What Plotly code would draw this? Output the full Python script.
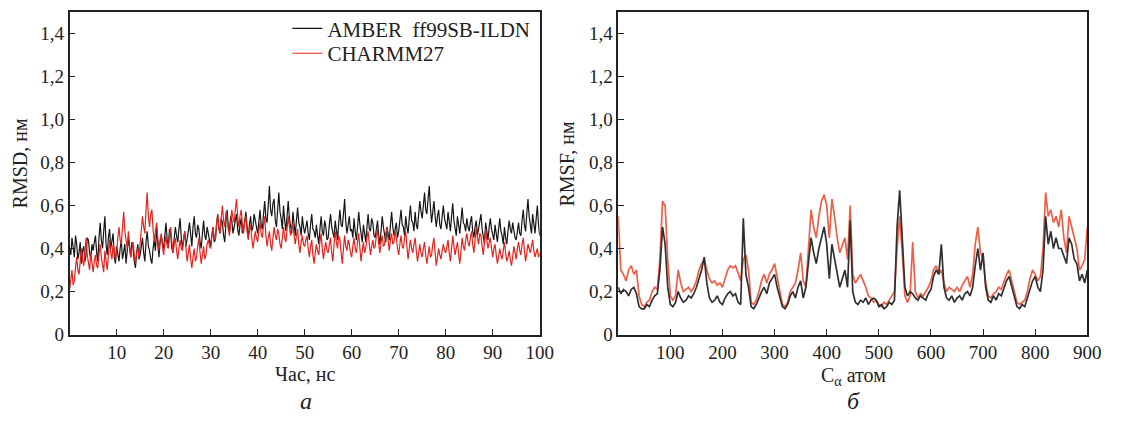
import plotly.graph_objects as go

# ---- RMSD over simulation time (ns), sampled every 0.25 ns ----
time_ns = [i * 0.25 for i in range(401)]

rmsd_amber = [
    0.40, 0.37, 0.45, 0.41, 0.36, 0.46, 0.42, 0.35, 0.38, 0.43, 0.33, 0.39, 0.41, 0.34, 0.37, 0.45, 0.44, 0.38, 0.35, 0.42,
    0.39, 0.43, 0.46, 0.38, 0.34, 0.45, 0.52, 0.44, 0.40, 0.48, 0.55, 0.42, 0.37, 0.45, 0.49, 0.40, 0.43, 0.47, 0.36, 0.33,
    0.41, 0.37, 0.34, 0.40, 0.44, 0.35, 0.38, 0.42, 0.33, 0.39, 0.45, 0.40, 0.36, 0.43, 0.40, 0.34, 0.31, 0.38, 0.42, 0.35,
    0.37, 0.41, 0.45, 0.38, 0.34, 0.43, 0.48, 0.41, 0.39, 0.35, 0.33, 0.40, 0.44, 0.39, 0.50, 0.42, 0.36, 0.43, 0.46, 0.42,
    0.40, 0.46, 0.52, 0.44, 0.41, 0.49, 0.47, 0.40, 0.38, 0.45, 0.50, 0.46, 0.43, 0.49, 0.54, 0.45, 0.40, 0.44, 0.48, 0.41,
    0.44, 0.48, 0.52, 0.45, 0.41, 0.50, 0.55, 0.47, 0.45, 0.51, 0.49, 0.43, 0.40, 0.47, 0.53, 0.46, 0.44, 0.50, 0.47, 0.43,
    0.41, 0.46, 0.50, 0.43, 0.44, 0.51, 0.56, 0.49, 0.47, 0.54, 0.52, 0.46, 0.43, 0.52, 0.58, 0.50, 0.48, 0.55, 0.53, 0.47,
    0.50, 0.53, 0.56, 0.49, 0.46, 0.51, 0.54, 0.47, 0.49, 0.53, 0.57, 0.50, 0.45, 0.51, 0.55, 0.48, 0.50, 0.56, 0.53, 0.50,
    0.47, 0.52, 0.58, 0.51, 0.49, 0.56, 0.62, 0.54, 0.52, 0.60, 0.69, 0.58, 0.55, 0.61, 0.63, 0.53, 0.50, 0.58, 0.66, 0.57,
    0.54, 0.49, 0.60, 0.53, 0.48, 0.55, 0.62, 0.54, 0.51, 0.47, 0.57, 0.50, 0.46, 0.53, 0.59, 0.52, 0.50, 0.46, 0.55, 0.50,
    0.47, 0.50, 0.53, 0.47, 0.44, 0.51, 0.56, 0.49, 0.48, 0.45, 0.51, 0.46, 0.42, 0.49, 0.55, 0.48, 0.46, 0.53, 0.50, 0.44,
    0.45, 0.51, 0.56, 0.50, 0.48, 0.45, 0.53, 0.47, 0.44, 0.52, 0.58, 0.51, 0.50, 0.56, 0.63, 0.52, 0.47, 0.51, 0.55, 0.48,
    0.49, 0.45, 0.54, 0.48, 0.44, 0.50, 0.57, 0.51, 0.47, 0.43, 0.51, 0.46, 0.43, 0.50, 0.56, 0.49, 0.48, 0.54, 0.52, 0.46,
    0.45, 0.49, 0.53, 0.46, 0.42, 0.48, 0.55, 0.50, 0.47, 0.43, 0.50, 0.47, 0.44, 0.51, 0.57, 0.50, 0.46, 0.49, 0.52, 0.45,
    0.48, 0.53, 0.58, 0.51, 0.50, 0.46, 0.55, 0.50, 0.47, 0.54, 0.60, 0.53, 0.52, 0.48, 0.57, 0.51, 0.49, 0.56, 0.62, 0.57,
    0.54, 0.60, 0.66, 0.58, 0.56, 0.63, 0.69, 0.59, 0.52, 0.57, 0.62, 0.55, 0.50, 0.55, 0.58, 0.51, 0.49, 0.55, 0.60, 0.54,
    0.52, 0.49, 0.57, 0.51, 0.48, 0.55, 0.61, 0.53, 0.50, 0.46, 0.55, 0.50, 0.47, 0.53, 0.59, 0.52, 0.51, 0.48, 0.54, 0.50,
    0.48, 0.52, 0.55, 0.48, 0.45, 0.50, 0.53, 0.46, 0.49, 0.53, 0.56, 0.49, 0.46, 0.42, 0.52, 0.47, 0.44, 0.50, 0.54, 0.49,
    0.47, 0.44, 0.51, 0.46, 0.43, 0.49, 0.54, 0.48, 0.46, 0.42, 0.50, 0.45, 0.42, 0.48, 0.53, 0.49, 0.47, 0.52, 0.49, 0.45,
    0.44, 0.49, 0.52, 0.47, 0.46, 0.53, 0.58, 0.51, 0.48, 0.56, 0.63, 0.55, 0.51, 0.47, 0.56, 0.50, 0.47, 0.54, 0.60, 0.51,
    0.46,
]

rmsd_charmm = [
    0.21, 0.26, 0.30, 0.23, 0.25, 0.31, 0.36, 0.30, 0.28, 0.34, 0.40, 0.35, 0.32, 0.38, 0.45, 0.37, 0.34, 0.30, 0.38, 0.33,
    0.29, 0.34, 0.37, 0.32, 0.31, 0.37, 0.42, 0.36, 0.33, 0.29, 0.39, 0.34, 0.30, 0.37, 0.44, 0.38, 0.35, 0.42, 0.40, 0.35,
    0.38, 0.45, 0.50, 0.44, 0.42, 0.50, 0.57, 0.48, 0.44, 0.40, 0.48, 0.41, 0.36, 0.40, 0.43, 0.37, 0.33, 0.38, 0.40, 0.36,
    0.42, 0.49, 0.55, 0.50, 0.47, 0.58, 0.66, 0.55, 0.50, 0.56, 0.58, 0.49, 0.43, 0.48, 0.52, 0.45, 0.39, 0.44, 0.47, 0.41,
    0.37, 0.42, 0.46, 0.41, 0.40, 0.46, 0.50, 0.43, 0.38, 0.42, 0.45, 0.39, 0.35, 0.40, 0.44, 0.40, 0.39, 0.45, 0.48, 0.40,
    0.34, 0.38, 0.42, 0.35, 0.31, 0.36, 0.40, 0.34, 0.36, 0.41, 0.45, 0.38, 0.33, 0.37, 0.41, 0.35, 0.37, 0.42, 0.44, 0.41,
    0.40, 0.46, 0.50, 0.45, 0.44, 0.51, 0.56, 0.50, 0.47, 0.54, 0.60, 0.53, 0.50, 0.57, 0.55, 0.49, 0.46, 0.52, 0.58, 0.54,
    0.52, 0.58, 0.63, 0.55, 0.50, 0.55, 0.58, 0.51, 0.47, 0.52, 0.55, 0.48, 0.44, 0.49, 0.51, 0.45, 0.40, 0.44, 0.48, 0.45,
    0.43, 0.48, 0.52, 0.47, 0.45, 0.51, 0.55, 0.46, 0.41, 0.45, 0.48, 0.42, 0.39, 0.45, 0.50, 0.46, 0.44, 0.49, 0.47, 0.42,
    0.40, 0.45, 0.50, 0.45, 0.43, 0.49, 0.55, 0.50, 0.46, 0.50, 0.52, 0.46, 0.42, 0.46, 0.49, 0.42, 0.38, 0.43, 0.46, 0.42,
    0.41, 0.44, 0.46, 0.40, 0.36, 0.41, 0.44, 0.37, 0.33, 0.38, 0.42, 0.39, 0.37, 0.43, 0.47, 0.40, 0.35, 0.40, 0.43, 0.39,
    0.38, 0.42, 0.45, 0.38, 0.34, 0.42, 0.48, 0.43, 0.40, 0.46, 0.44, 0.38, 0.33, 0.40, 0.46, 0.41, 0.39, 0.44, 0.42, 0.38,
    0.36, 0.41, 0.45, 0.40, 0.38, 0.43, 0.47, 0.40, 0.34, 0.39, 0.43, 0.38, 0.40, 0.45, 0.48, 0.42, 0.37, 0.41, 0.44, 0.40,
    0.41, 0.46, 0.49, 0.42, 0.38, 0.43, 0.46, 0.41, 0.42, 0.47, 0.50, 0.44, 0.39, 0.44, 0.47, 0.42, 0.43, 0.48, 0.45, 0.40,
    0.37, 0.42, 0.46, 0.41, 0.40, 0.45, 0.48, 0.41, 0.35, 0.40, 0.44, 0.40, 0.38, 0.42, 0.45, 0.39, 0.34, 0.38, 0.42, 0.38,
    0.36, 0.40, 0.43, 0.37, 0.33, 0.37, 0.41, 0.36, 0.37, 0.42, 0.45, 0.38, 0.32, 0.36, 0.40, 0.37, 0.35, 0.39, 0.42, 0.39,
    0.38, 0.41, 0.44, 0.38, 0.34, 0.40, 0.46, 0.41, 0.37, 0.40, 0.43, 0.37, 0.33, 0.39, 0.45, 0.41, 0.39, 0.44, 0.47, 0.43,
    0.41, 0.45, 0.48, 0.42, 0.38, 0.44, 0.50, 0.45, 0.42, 0.47, 0.46, 0.41, 0.37, 0.43, 0.49, 0.44, 0.40, 0.43, 0.45, 0.40,
    0.36, 0.40, 0.42, 0.37, 0.33, 0.36, 0.40, 0.37, 0.35, 0.39, 0.43, 0.38, 0.34, 0.36, 0.39, 0.35, 0.32, 0.36, 0.41, 0.38,
    0.35, 0.40, 0.43, 0.39, 0.37, 0.42, 0.45, 0.39, 0.34, 0.38, 0.42, 0.40, 0.38, 0.41, 0.44, 0.39, 0.36, 0.38, 0.40, 0.36,
    0.38,
]

# ---- RMSF per C-alpha atom, every 5th atom ----
atom_idx = list(range(0, 901, 5))

rmsf_amber = [
    0.22, 0.19, 0.21, 0.20, 0.18, 0.21, 0.22, 0.19, 0.13, 0.12,
    0.12, 0.14, 0.13, 0.16, 0.18, 0.19, 0.30, 0.50, 0.42, 0.22,
    0.14, 0.13, 0.15, 0.20, 0.17, 0.15, 0.16, 0.18, 0.17, 0.19,
    0.22, 0.26, 0.30, 0.36, 0.24, 0.17, 0.15, 0.16, 0.18, 0.15,
    0.14, 0.17, 0.19, 0.20, 0.18, 0.19, 0.15, 0.14, 0.54, 0.28,
    0.22, 0.13, 0.12, 0.14, 0.17, 0.20, 0.22, 0.19, 0.24, 0.26,
    0.28, 0.22, 0.18, 0.13, 0.12, 0.14, 0.18, 0.20, 0.17, 0.22,
    0.25, 0.17, 0.22, 0.35, 0.45, 0.38, 0.33, 0.40, 0.45, 0.50,
    0.42, 0.26, 0.42, 0.35, 0.28, 0.22, 0.26, 0.30, 0.22, 0.53,
    0.20, 0.15, 0.14, 0.16, 0.15, 0.17, 0.14, 0.16, 0.17, 0.16,
    0.13, 0.14, 0.12, 0.13, 0.15, 0.14, 0.16, 0.50, 0.67, 0.45,
    0.22, 0.18, 0.20, 0.19, 0.17, 0.16, 0.18, 0.17, 0.16, 0.19,
    0.21, 0.27, 0.30, 0.28, 0.42, 0.22, 0.17, 0.16, 0.18, 0.15,
    0.17, 0.18, 0.16, 0.19, 0.20, 0.18, 0.22, 0.32, 0.40, 0.30,
    0.38, 0.22, 0.16, 0.15, 0.18, 0.16, 0.19, 0.18, 0.22, 0.25,
    0.27, 0.22, 0.18, 0.13, 0.12, 0.14, 0.13, 0.17, 0.22, 0.25,
    0.27, 0.22, 0.20, 0.30, 0.55, 0.42, 0.48, 0.40, 0.45, 0.40,
    0.40, 0.36, 0.33, 0.45, 0.42, 0.35, 0.33, 0.25, 0.28, 0.24,
    0.30,
]

rmsf_charmm = [
    0.55, 0.30, 0.28, 0.25, 0.30, 0.32, 0.28, 0.30, 0.18, 0.14,
    0.13, 0.15, 0.16, 0.20, 0.22, 0.21, 0.35, 0.62, 0.60, 0.35,
    0.18, 0.16, 0.18, 0.30, 0.24, 0.20, 0.21, 0.22, 0.20, 0.22,
    0.25, 0.30, 0.33, 0.35, 0.30, 0.26, 0.24, 0.25, 0.23, 0.24,
    0.22, 0.26, 0.30, 0.32, 0.31, 0.32, 0.28, 0.25, 0.35, 0.37,
    0.30, 0.15, 0.14, 0.16, 0.20, 0.25, 0.28, 0.24, 0.28, 0.30,
    0.33, 0.27, 0.20, 0.14, 0.13, 0.15, 0.20, 0.22, 0.24, 0.30,
    0.38, 0.25, 0.22, 0.40, 0.58, 0.50, 0.45, 0.55, 0.62, 0.65,
    0.60, 0.45, 0.63, 0.55, 0.45, 0.38, 0.42, 0.45, 0.35, 0.60,
    0.28, 0.24, 0.26, 0.28, 0.25, 0.22, 0.18, 0.17, 0.15, 0.16,
    0.14, 0.13, 0.15, 0.14, 0.16, 0.18, 0.20, 0.40, 0.55, 0.38,
    0.18, 0.15, 0.18, 0.43, 0.20, 0.17, 0.19, 0.18, 0.20, 0.22,
    0.25, 0.30, 0.32, 0.28, 0.30, 0.24, 0.20, 0.22, 0.21, 0.20,
    0.22, 0.20, 0.23, 0.25, 0.27, 0.22, 0.28, 0.42, 0.50, 0.38,
    0.35, 0.24, 0.18, 0.17, 0.19, 0.20, 0.22, 0.21, 0.25, 0.28,
    0.30, 0.25, 0.20, 0.15, 0.14, 0.15, 0.16, 0.20, 0.26, 0.30,
    0.28, 0.25, 0.27, 0.40, 0.66, 0.55, 0.58, 0.52, 0.55, 0.50,
    0.58, 0.45, 0.38, 0.55, 0.50, 0.45, 0.40, 0.30, 0.32, 0.35,
    0.50,
]

series_names = ["AMBER  ff99SB-ILDN", "CHARMM27"]
y_ticks = [0, 0.2, 0.4, 0.6, 0.8, 1.0, 1.2, 1.4]
y_tick_text = ["0", "0,2", "0,4", "0,6", "0,8", "1,0", "1,2", "1,4"]
time_ticks = [10, 20, 30, 40, 50, 60, 70, 80, 90, 100]
atom_ticks = [100, 200, 300, 400, 500, 600, 700, 800, 900]

FONT = "Liberation Serif"
INK = "#222222"
BLACK = "#151515"
RED = "#e3231d"
RED_SOFT = "#ec6048"
W, H = 1126, 426


def px_x(p):
    return p / W


def px_y(p):
    return 1 - p / H


fig = go.Figure()

fig.add_trace(go.Scatter(x=time_ns, y=rmsd_amber, mode="lines", name=series_names[0],
                         line=dict(color=BLACK, width=1.2), xaxis="x", yaxis="y",
                         legend="legend"))
fig.add_trace(go.Scatter(x=time_ns, y=rmsd_charmm, mode="lines", name=series_names[1],
                         line=dict(color=RED, width=1.2), xaxis="x", yaxis="y",
                         legend="legend2"))
fig.add_trace(go.Scatter(x=atom_idx, y=rmsf_charmm, mode="lines", showlegend=False,
                         line=dict(color=RED_SOFT, width=1.7), xaxis="x2", yaxis="y2"))
fig.add_trace(go.Scatter(x=atom_idx, y=rmsf_amber, mode="lines", showlegend=False,
                         line=dict(color="#303030", width=1.7), xaxis="x2", yaxis="y2"))

axis_common = dict(showline=True, linecolor=INK, linewidth=1.5, mirror=True,
                   ticks="inside", ticklen=6, tickwidth=1.2, tickcolor=INK,
                   showgrid=False, zeroline=False,
                   tickfont=dict(family=FONT, size=19, color=INK))

y_dom = [px_y(343.5), px_y(12)]

legend_style = dict(xanchor="left", yanchor="middle", bgcolor="rgba(0,0,0,0)",
                    borderwidth=0, font=dict(family=FONT, size=21, color=INK),
                    itemwidth=30)

fig.update_layout(
    width=W, height=H,
    margin=dict(l=0, r=0, t=0, b=0),
    paper_bgcolor="white", plot_bgcolor="white",
    xaxis=dict(domain=[px_x(70.5), px_x(546.5)], range=[0, 100],
               tickvals=time_ticks, ticktext=[str(v) for v in time_ticks],
               anchor="y", **axis_common),
    yaxis=dict(domain=y_dom, range=[0, 1.5], tickvals=y_ticks, ticktext=y_tick_text,
               anchor="x", **axis_common),
    xaxis2=dict(domain=[px_x(626), px_x(1101)], range=[0, 900],
                tickvals=atom_ticks, ticktext=[str(v) for v in atom_ticks],
                anchor="y2", **axis_common),
    yaxis2=dict(domain=y_dom, range=[0, 1.5], tickvals=y_ticks, ticktext=y_tick_text,
                anchor="x2", **axis_common),
    legend=dict(x=px_x(291), y=px_y(29.5), **legend_style),
    legend2=dict(x=px_x(291), y=px_y(55), **legend_style),
    showlegend=True,
)

label_font = dict(family=FONT, size=20, color=INK)
annotations = [
    dict(text="RMSD, нм", x=px_x(20), y=px_y(168), textangle=-90),
    dict(text="RMSF, нм", x=px_x(574), y=px_y(168), textangle=-90),
    dict(text="Час, нс", x=px_x(309), y=px_y(384)),
    dict(text="C<sub>α</sub> атом", x=px_x(864), y=px_y(386)),
    dict(text="<i>а</i>", x=px_x(310), y=px_y(412), font=dict(family=FONT, size=24, color=INK)),
    dict(text="<i>б</i>", x=px_x(864), y=px_y(412), font=dict(family=FONT, size=24, color=INK)),
]
for a in annotations:
    a.setdefault("font", label_font)
    fig.add_annotation(xref="paper", yref="paper", showarrow=False,
                       xanchor="center", yanchor="middle", **a)

fig.write_html("out.html")
